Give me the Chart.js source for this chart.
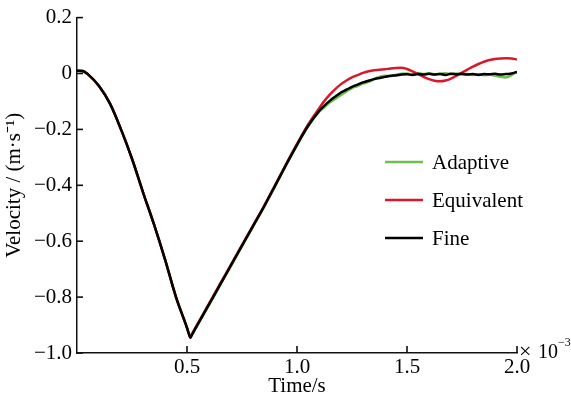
<!DOCTYPE html>
<html><head><meta charset="utf-8">
<script src="https://cdn.jsdelivr.net/npm/chart.js@4"></script>
<style>html,body{margin:0;padding:0;background:#fff;}#wrap{width:571px;height:400px;}</style>
</head><body><div id="wrap"><canvas id="c" width="571" height="400"></canvas></div>
<script>
const time = [0, 0.025, 0.05, 0.1, 0.15, 0.2, 0.25, 0.3, 0.35, 0.4, 0.45, 0.5, 0.508, 0.515, 0.522, 0.55, 0.6, 0.65, 0.7, 0.75, 0.8, 0.85, 0.9, 0.95, 1.0, 1.05,
  1.1, 1.125, 1.15, 1.175, 1.2, 1.225, 1.25, 1.275, 1.3, 1.325, 1.35, 1.375, 1.4, 1.425, 1.45, 1.475, 1.5, 1.525, 1.55, 1.575, 1.6, 1.625, 1.65, 1.675, 1.7, 1.725, 1.75, 1.775, 1.8, 1.825, 1.85, 1.875, 1.9, 1.925, 1.95, 1.975, 2.0];
const fine = [0.01, 0.009, -0.003, -0.045, -0.108, -0.2, -0.305, -0.425, -0.54, -0.665, -0.8, -0.91, -0.93, -0.945, -0.935, -0.896, -0.826, -0.756, -0.686, -0.616, -0.546, -0.476, -0.402, -0.327, -0.255, -0.188,
  -0.135, -0.115, -0.097, -0.082, -0.068, -0.058, -0.048, -0.04, -0.032, -0.026, -0.02, -0.016, -0.012, -0.008, -0.007, -0.004, -0.003, -0.005, -0.002, -0.004, -0.001, -0.004, -0.002, -0.005, -0.001, -0.003, -0.001, -0.004, -0.002, -0.005, -0.002, -0.003, -0.001, -0.004, -0.002, 0.0, 0.006];
const equivalent = [0.01, 0.009, -0.003, -0.045, -0.108, -0.2, -0.305, -0.425, -0.54, -0.665, -0.8, -0.91, -0.93, -0.945, -0.933, -0.893, -0.823, -0.753, -0.684, -0.614, -0.544, -0.474, -0.4, -0.325, -0.252, -0.183,
  -0.125, -0.098, -0.075, -0.055, -0.038, -0.025, -0.014, -0.006, 0.002, 0.008, 0.012, 0.013, 0.015, 0.018, 0.02, 0.021, 0.016, 0.008, -0.002, -0.012, -0.02, -0.026, -0.028, -0.025, -0.018, -0.008, 0.003, 0.014, 0.025, 0.034, 0.042, 0.048, 0.052, 0.054, 0.055, 0.054, 0.05];
const adaptive = [0.01, 0.009, -0.003, -0.045, -0.108, -0.2, -0.305, -0.425, -0.54, -0.665, -0.8, -0.91, -0.93, -0.945, -0.936, -0.898, -0.829, -0.758, -0.689, -0.618, -0.548, -0.478, -0.404, -0.329, -0.257, -0.19,
  -0.137, -0.12, -0.103, -0.09, -0.077, -0.064, -0.052, -0.045, -0.036, -0.03, -0.02, -0.012, -0.008, -0.01, -0.004, -0.001, 0.0, -0.003, 0.002, -0.002, 0.001, -0.003, -0.001, 0.001, -0.002, 0.0, -0.004, -0.002, -0.005, -0.003, -0.006, -0.004, -0.008, -0.012, -0.014, -0.006, 0.006];
const seriesLabels = ['Adaptive', 'Equivalent', 'Fine'];
const seriesColors = ['#6dbf4f', '#d7192b', '#000000'];
const xTickValues = [0.5, 1.0, 1.5, 2.0];
const yTickValues = [0.2, 0, -0.2, -0.4, -0.6, -0.8, -1.0];

const FONT = '"Liberation Serif", "Times New Roman", serif';
const series = [adaptive, equivalent, fine];
const datasets = series.map((vals, i) => ({
  label: seriesLabels[i],
  data: time.map((t, j) => ({x: t, y: vals[j]})),
  borderColor: seriesColors[i],
  backgroundColor: seriesColors[i],
  borderWidth: 2.5,
  pointRadius: 0,
  cubicInterpolationMode: 'monotone',
  fill: false,
  order: series.length - i
}));

function fmtY(v) {
  const r = Math.round(v * 10) / 10;
  if (r === 0) return '0';
  const s = Math.abs(r).toFixed(1);
  return r < 0 ? '\u2212' + s : s;
}

const overlay = {
  id: 'overlay',
  afterDraw(chart) {
    const ctx = chart.ctx;
    const ca = chart.chartArea;
    const xs = chart.scales.x, ys = chart.scales.y;
    ctx.save();
    ctx.fillStyle = '#111111';
    yTickValues.forEach(v => {
      const py = ys.getPixelForValue(v);
      ctx.fillRect(ca.left, py - 0.8, 6, 1.6);
    });
    xTickValues.forEach(v => {
      const px = xs.getPixelForValue(v);
      ctx.fillRect(px - 0.8, ca.bottom - 7, 1.6, 7);
    });
    // legend
    const lx = 385, ly0 = 162, dy = 38;
    ctx.font = '21px ' + FONT;
    ctx.textBaseline = 'middle';
    ctx.textAlign = 'left';
    ctx.fillStyle = '#000';
    chart.data.datasets.forEach((ds, i) => {
      const y = ly0 + i * dy;
      ctx.strokeStyle = ds.borderColor;
      ctx.lineWidth = 2.5;
      ctx.beginPath(); ctx.moveTo(lx, y); ctx.lineTo(lx + 38, y); ctx.stroke();
      ctx.fillText(ds.label, lx + 47, y + 1);
    });
    // x10^-3
    const ex = xs.getPixelForValue(2.0);
    ctx.textBaseline = 'alphabetic';
    ctx.font = '22px ' + FONT;
    ctx.fillText('\u00d7', ex + 2, ca.bottom + 5);
    ctx.font = '20px ' + FONT;
    ctx.fillText('10', ex + 21, ca.bottom + 5);
    ctx.font = '12px ' + FONT;
    ctx.fillText('\u22123', ex + 41, ca.bottom - 7);
    ctx.restore();
  }
};

new Chart(document.getElementById('c'), {
  type: 'line',
  data: {datasets},
  plugins: [overlay],
  options: {
    responsive: false,
    animation: false,
    layout: {padding: {left: 0, top: 17, right: 54, bottom: 0}},
    plugins: {legend: {display: false}, tooltip: {enabled: false}},
    scales: {
      x: {
        type: 'linear', min: 0, max: 2.0,
        afterFit(s) { s.height = 47; },
        afterBuildTicks(s) { s.ticks = [0].concat(xTickValues).map(v => ({value: v})); },
        grid: {display: false, drawTicks: false},
        border: {display: true, color: '#111', width: 1.5},
        ticks: {padding: 2, color: '#000', font: {family: FONT, size: 21}, maxRotation: 0,
          callback: v => v === 0 ? '' : v.toFixed(1)},
        title: {display: true, text: 'Time/s', color: '#000', font: {family: FONT, size: 21}, padding: {top: 0, bottom: 1}}
      },
      y: {
        type: 'linear', min: -1.0, max: 0.2,
        afterFit(s) { s.width = 77; },
        afterBuildTicks(s) { s.ticks = yTickValues.map(v => ({value: v})); },
        grid: {display: false, drawTicks: false},
        border: {display: true, color: '#111', width: 1.5},
        ticks: {padding: 5, color: '#000', font: {family: FONT, size: 21}, callback: v => fmtY(v)},
        title: {display: true, text: 'Velocity / (m\u00b7s\u207b\u00b9)', color: '#000', font: {family: FONT, size: 21}, padding: {top: 2, bottom: 0}}
      }
    }
  }
});
</script></body></html>
